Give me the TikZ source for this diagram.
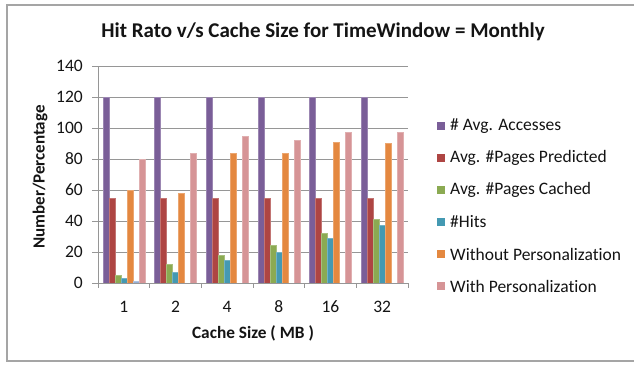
\documentclass[tikz,border=0pt]{standalone}
\usepackage{fontspec}
\setmainfont[Ligatures=NoCommon]{Carlito}
\definecolor{s0}{RGB}{122,94,152}
\definecolor{s1}{RGB}{174,69,67}
\definecolor{s2}{RGB}{139,170,82}
\definecolor{s3}{RGB}{68,153,178}
\definecolor{s4}{RGB}{228,136,64}
\definecolor{s5}{RGB}{150,175,212}
\definecolor{s6}{RGB}{214,148,150}
\definecolor{gridc}{RGB}{150,150,150}
\definecolor{framec}{RGB}{165,165,165}
\definecolor{txt}{RGB}{20,20,20}
\tikzset{
  frame/.style={draw=framec,line width=1.3pt},
  gridline/.style={draw=gridc,line width=0.9pt},
  axisline/.style={draw=gridc,line width=0.9pt},
  ticklab/.style={font=\fontsize{17.5}{20}\selectfont,inner sep=0pt,text=txt},
  legtext/.style={font=\fontsize{17.5}{20}\selectfont,inner sep=0pt,anchor=west,text=txt},
  axtitle/.style={font=\bfseries\fontsize{17.3}{20}\selectfont,inner sep=0pt,text=txt},
  bar/.style={line width=0.5pt}
}
\begin{document}
\begin{tikzpicture}[x=1pt,y=-1pt]
\useasboundingbox (0,0) rectangle (634,365);
\fill[white] (0,0) rectangle (634,365);
\draw[frame] (634,5) -- (7,5) -- (7,361) -- (634,361);
% title
\node[font=\bfseries\fontsize{21}{25}\selectfont,inner sep=0pt,text=txt] (title) at (323,32) {Hit Rato v/s Cache Size for TimeWindow = Monthly};
% gridlines and y labels
\foreach \v in {20,40,...,140}
  \draw[gridline] (92,{283-1.55*\v}) -- (408,{283-1.55*\v});
\foreach \v in {0,20,...,140}
  \node[ticklab,anchor=east] (yl\v) at (83,{283-1.55*\v}) {\v};
% bars
\foreach \vals [count=\c from 0] in {{120,55,5,3,60,1,80},{120,55,12,7,58,0,83.5},{120,55,18,15,83.5,0,94.5},{120,55,24.5,20,83.5,0,92},{120,55,32,29,91,0,97},{120,55,41,37,90,0,97.5}}{
  \foreach \v [count=\s from 0] in \vals {
    \ifdim \v pt>0pt
      \fill[s\s,draw=s\s!75!white,bar] ({98+51.667*\c+5+6*\s},283) rectangle ++(6,{-1.55*\v});
    \fi
  }
}
% axes
\draw[axisline] (98,66) -- (98,283);
\draw[axisline] (92,283) -- (408,283);
\foreach \i in {0,...,6}
  \draw[axisline] ({98+51.667*\i},283) -- ++(0,5);
% x labels
\foreach \t [count=\i from 0] in {1,2,4,8,16,32}
  \node[ticklab] (xl\i) at ({98+51.667*\i+25.8},307) {\t};
\node[axtitle] (xtitle) at (253,333) {Cache Size ( MB )};
\node[axtitle,rotate=90,font=\bfseries\fontsize{17}{20}\selectfont] (ytitle) at (40,177) {Number/Percentage};
% legend
\foreach \col/\t [count=\i from 0] in {s0/{\# Avg. Accesses},s1/{Avg. \#Pages Predicted},s2/{Avg. \#Pages Cached},s3/{\#Hits},s4/{Without Personalization},s6/{With Personalization}}{
  \fill[\col] (437,{126+32*\i-4}) rectangle ++(8,8);
  \node[legtext] (leg\i) at (450,{126+32*\i}) {\t};
}
\end{tikzpicture}
\end{document}
